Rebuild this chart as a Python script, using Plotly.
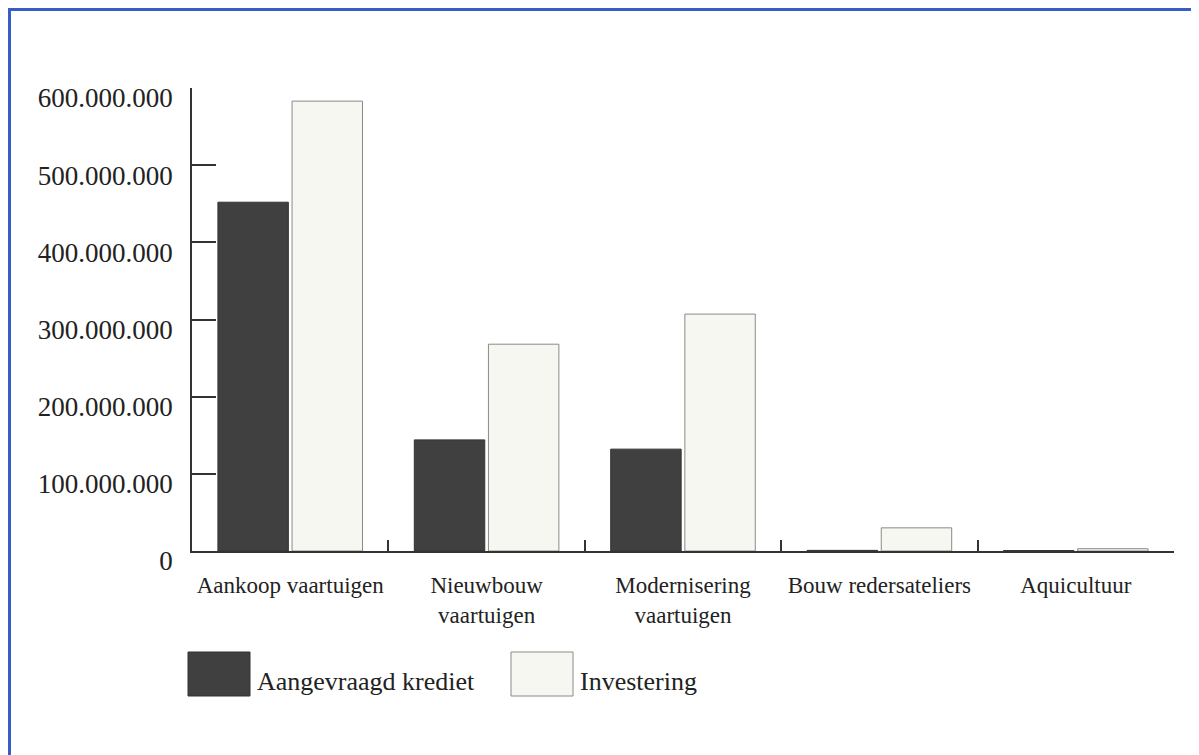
import plotly.graph_objects as go

categories = ["Aankoop vaartuigen", "Nieuwbouw<br>vaartuigen", "Modernisering<br>vaartuigen",
              "Bouw redersateliers", "Aquicultuur"]
series_names = ["Aangevraagd krediet", "Investering"]
krediet = [452_000_000, 144_000_000, 132_000_000, 800_000, 500_000]
investering = [583_000_000, 268_000_000, 307_000_000, 30_000_000, 3_000_000]
tick_vals = [0, 100_000_000, 200_000_000, 300_000_000, 400_000_000, 500_000_000, 600_000_000]
tick_text = ["0", "100.000.000", "200.000.000", "300.000.000", "400.000.000", "500.000.000", "600.000.000"]

OFF = 8  # page body margin
W, H = 1199 - OFF, 755 - OFF
L, R, T, B = 192 - OFF, 1174 - OFF, 88 - OFF, 551 - OFF
FONT = "Liberation Serif"
DARK = "#404040"
LIGHT = "#f7f7f1"
TXT = "#222222"

def px(x):
    return (x - OFF - L) / (R - L)

def py(y):
    return (B - (y - OFF)) / (B - T)

fig = go.Figure()
fig.add_trace(go.Bar(x=categories, y=krediet, name=series_names[0],
                     marker=dict(color=DARK, line=dict(color="#333333", width=1))))
fig.add_trace(go.Bar(x=categories, y=investering, name=series_names[1],
                     marker=dict(color=LIGHT, line=dict(color="#8a8a8a", width=1))))

shapes = [
    # blue frame
    dict(type="line", xref="paper", yref="paper", x0=px(9.5), x1=px(9.5), y0=py(9.5), y1=py(770),
         line=dict(color="#3a5cc4", width=3)),
    dict(type="line", xref="paper", yref="paper", x0=px(8), x1=px(1210), y0=py(9.5), y1=py(9.5),
         line=dict(color="#3a5cc4", width=3)),
    # legend swatches
    dict(type="rect", xref="paper", yref="paper", x0=px(188), x1=px(250), y0=py(696), y1=py(652),
         fillcolor=DARK, line=dict(color="#333333", width=1)),
    dict(type="rect", xref="paper", yref="paper", x0=px(511), x1=px(573), y0=py(696), y1=py(652),
         fillcolor=LIGHT, line=dict(color="#8a8a8a", width=1)),
]
annotations = [
    dict(xref="paper", yref="paper", x=px(255), y=py(681), text=series_names[0], showarrow=False,
         xanchor="left", yanchor="middle", font=dict(family=FONT, size=26, color=TXT)),
    dict(xref="paper", yref="paper", x=px(578), y=py(681), text=series_names[1], showarrow=False,
         xanchor="left", yanchor="middle", font=dict(family=FONT, size=26, color=TXT)),
]

fig.update_layout(
    width=W, height=H,
    margin=dict(l=L, r=W - R, t=T, b=H - B, pad=0),
    paper_bgcolor="white", plot_bgcolor="white",
    barmode="group", bargap=0.245, bargroupgap=0.05,
    showlegend=False,
    shapes=shapes, annotations=annotations,
    font=dict(family=FONT, size=26, color=TXT),
)
fig.update_xaxes(
    showline=True, linecolor="#333333", linewidth=1.5,
    ticks="inside", tickson="boundaries", ticklen=11, tickcolor="#333333", tickwidth=1.5,
    tickfont=dict(family=FONT, size=23, color=TXT), tickangle=0,
    ticklabelstandoff=13,
    showgrid=False, zeroline=False,
)
fig.update_yaxes(
    range=[0, 600_000_000], tickvals=tick_vals, ticktext=tick_text,
    showline=True, linecolor="#333333", linewidth=1.5,
    ticks="inside", ticklen=24, tickcolor="#333333", tickwidth=1.5,
    tickfont=dict(family=FONT, size=27, color=TXT),
    ticklabelstandoff=12, ticklabelshift=10,
    showgrid=False, zeroline=False,
)

fig.write_html("out.html")
